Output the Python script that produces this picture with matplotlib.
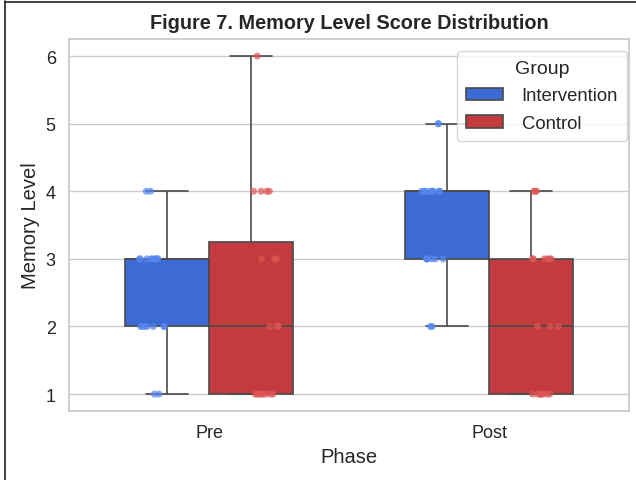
import numpy as np
import pandas as pd
import matplotlib
matplotlib.use("Agg")
import matplotlib.pyplot as plt
from matplotlib.lines import Line2D
import seaborn as sns

phases = ["Pre", "Post"]
groups = ["Intervention", "Control"]
scores = [1, 2, 3, 4, 5, 6]

# counts of each score (1..6) per phase / group
pre_intervention = [2, 7, 9, 2, 0, 0]
pre_control = [9, 3, 3, 4, 0, 1]
post_intervention = [0, 2, 7, 9, 2, 0]
post_control = [8, 3, 6, 3, 0, 0]

box_colors = {"Intervention": "#3d6bd5", "Control": "#c33b3d"}
dot_colors = {"Intervention": "#5585ef", "Control": "#e05555"}


def build_frame():
    rows = []
    table = {("Pre", "Intervention"): pre_intervention,
             ("Pre", "Control"): pre_control,
             ("Post", "Intervention"): post_intervention,
             ("Post", "Control"): post_control}
    for (phase, group), counts in table.items():
        for s, c in zip(scores, counts):
            rows += [{"Phase": phase, "Group": group, "Memory Level": s}] * c
    return pd.DataFrame(rows)


def main():
    df = build_frame()
    sns.set_theme(style="whitegrid")
    plt.rcParams["font.family"] = ["Liberation Sans", "DejaVu Sans"]

    fig = plt.figure(figsize=(6.36, 4.81), dpi=100)
    ax = fig.add_axes([0.1085, 0.1435, 0.8805, 0.773])

    sns.boxplot(data=df, x="Phase", y="Memory Level", hue="Group",
                order=phases, hue_order=groups, palette=box_colors,
                saturation=1, width=0.6, linewidth=1.2, linecolor="#4a4a4a",
                showfliers=False, ax=ax)
    np.random.seed(3)
    sns.stripplot(data=df, x="Phase", y="Memory Level", hue="Group",
                  order=phases, hue_order=groups, palette=dot_colors,
                  dodge=True, jitter=0.1, size=5, alpha=0.7, legend=False, ax=ax)

    ax.set_xlim(-0.5, 1.5)
    ax.set_ylim(0.75, 6.25)
    ax.set_yticks(scores)
    ax.tick_params(labelsize=13, colors="#262626")
    ax.set_xlabel("Phase", fontsize=14.5)
    ax.set_ylabel("Memory Level", fontsize=14.5)
    ax.set_title("Figure 7. Memory Level Score Distribution",
                 fontsize=14.3, fontweight="bold", pad=8)
    ax.xaxis.grid(False)
    for sp in ax.spines.values():
        sp.set_color("#cccccc")
        sp.set_linewidth(1.3)
    ax.legend(title="Group", loc="upper right", bbox_to_anchor=(0.997, 0.968),
              borderaxespad=0, fontsize=13.3, title_fontsize=14,
              frameon=True, handletextpad=1.0, labelspacing=0.55,
              borderpad=0.5)

    # screenshot frame on left and top
    fig.add_artist(Line2D([0.008, 0.008], [0, 0.995], color="#222222", lw=1.2,
                          transform=fig.transFigure))
    fig.add_artist(Line2D([0.008, 1], [0.994, 0.994], color="#222222", lw=1.2,
                          transform=fig.transFigure))

    fig.savefig("out.png", dpi=100)


if __name__ == "__main__":
    main()
